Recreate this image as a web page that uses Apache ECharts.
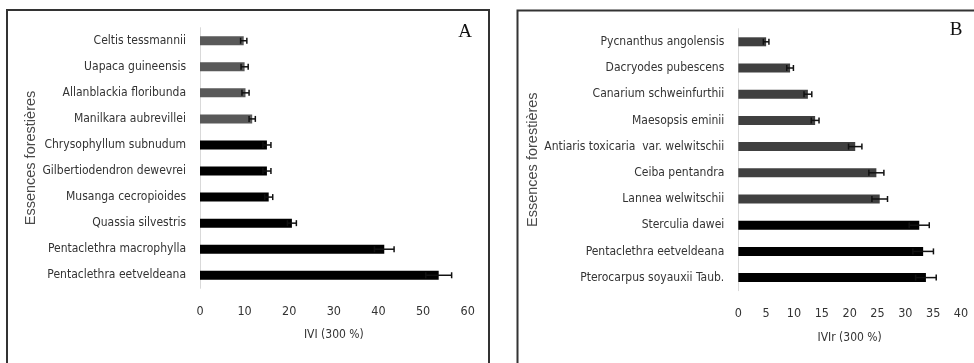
<!DOCTYPE html>
<html><head><meta charset="utf-8">
<script src="https://cdn.jsdelivr.net/npm/echarts@6/dist/echarts.min.js"></script>
<style>html,body{margin:0;padding:0;background:#fff}#c{width:974px;height:363px}</style>
</head><body><div id="c"></div>
<script>
// Panel A
const catsA = ['Celtis tessmannii','Uapaca guineensis','Allanblackia floribunda','Manilkara aubrevillei','Chrysophyllum subnudum','Gilbertiodendron dewevrei','Musanga cecropioides','Quassia silvestris','Pentaclethra macrophylla','Pentaclethra eetveldeana'];
const valsA = [9.8, 10.0, 10.2, 11.7, 15.0, 15.0, 15.4, 20.6, 41.3, 53.5];
const errA  = [0.7, 0.8, 0.8, 0.7, 0.9, 0.9, 0.9, 1.0, 2.2, 2.9];
const grayCountA = 4;
const ticksA = [0, 10, 20, 30, 40, 50, 60];
// Panel B
const catsB = ['Pycnanthus angolensis','Dacryodes pubescens','Canarium schweinfurthii','Maesopsis eminii','Antiaris toxicaria  var. welwitschii','Ceiba pentandra','Lannea welwitschii','Sterculia dawei','Pentaclethra eetveldeana','Pterocarpus soyauxii Taub.'];
const valsB = [5.0, 9.3, 12.5, 13.8, 21.0, 24.8, 25.4, 32.5, 33.2, 33.7];
const errB  = [0.5, 0.6, 0.7, 0.7, 1.2, 1.35, 1.4, 1.8, 1.85, 1.85];
const grayCountB = 7;
const ticksB = [0, 5, 10, 15, 20, 25, 30, 35, 40];

const FONT = '"DejaVu Sans Condensed","Liberation Sans Narrow","Liberation Sans",sans-serif';
const TXT = '#333';

function barData(vals, grayCount, gray) {
  return vals.map((v, i) => ({ value: v, itemStyle: { color: i < grayCount ? gray : '#000' } }));
}
function errData(vals, errs) {
  return vals.map((v, i) => [i, v - errs[i], v + errs[i]]);
}
function errRender(params, api) {
  const cat = api.value(0);
  const lo = api.coord([api.value(1), cat]);
  const hi = api.coord([api.value(2), cat]);
  const h = 3;
  const st = { stroke: '#111', lineWidth: 1.5 };
  return { type: 'group', children: [
    { type: 'line', shape: { x1: lo[0], y1: lo[1], x2: hi[0], y2: hi[1] }, style: st },
    { type: 'line', shape: { x1: lo[0], y1: lo[1] - h, x2: lo[0], y2: lo[1] + h }, style: st },
    { type: 'line', shape: { x1: hi[0], y1: hi[1] - h, x2: hi[0], y2: hi[1] + h }, style: st }
  ]};
}
function xAx(gi, ticks, name) {
  return { gridIndex: gi, type: 'value', min: ticks[0], max: ticks[ticks.length - 1],
    interval: ticks[1] - ticks[0],
    axisLine: { show: false }, axisTick: { show: false }, splitLine: { show: false },
    axisLabel: { color: TXT, fontFamily: FONT, fontSize: 12.5, margin: 17 },
    name: name, nameLocation: 'middle', nameGap: 41,
    nameTextStyle: { color: TXT, fontFamily: FONT, fontSize: 12 } };
}
function yAx(gi, cats, gap) {
  return { gridIndex: gi, type: 'category', data: cats, inverse: true,
    axisLine: { show: true, lineStyle: { color: '#d9d9d9', width: 1 } },
    axisTick: { show: false },
    axisLabel: { color: TXT, fontFamily: FONT, fontSize: 12, margin: 14 },
    name: 'Essences forestières', nameLocation: 'middle', nameRotate: 90, nameGap: gap,
    nameTextStyle: { color: '#4a4a4a', fontFamily: '"Liberation Sans",Arial,sans-serif', fontSize: 14.5 } };
}

const chart = echarts.init(document.getElementById('c'), null, { renderer: 'canvas' });
chart.setOption({
  animation: false,
  backgroundColor: '#fff',
  grid: [
    { left: 200, width: 267.7, top: 27.7, height: 260.6 },
    { left: 738.3, width: 222.7, top: 28.7, height: 262 }
  ],
  xAxis: [ xAx(0, ticksA, 'IVI (300 %)'), xAx(1, ticksB, 'IVIr (300 %)') ],
  yAxis: [ yAx(0, catsA, 160), yAx(1, catsB, 181) ],
  graphic: [
    { type: 'rect', shape: { x: 7, y: 10, width: 482, height: 360 }, style: { fill: 'none', stroke: '#333', lineWidth: 2 } },
    { type: 'rect', shape: { x: 517.5, y: 10.5, width: 470, height: 360 }, style: { fill: 'none', stroke: '#333', lineWidth: 2 } },
    { type: 'text', x: 465, y: 32, style: { text: 'A', font: '19px "Liberation Serif",serif', fill: '#111', align: 'center', verticalAlign: 'middle' } },
    { type: 'text', x: 956, y: 30, style: { text: 'B', font: '19px "Liberation Serif",serif', fill: '#111', align: 'center', verticalAlign: 'middle' } }
  ],
  series: [
    { type: 'bar', xAxisIndex: 0, yAxisIndex: 0, barWidth: 9, data: barData(valsA, grayCountA, '#595959') },
    { type: 'custom', xAxisIndex: 0, yAxisIndex: 0, renderItem: errRender, data: errData(valsA, errA), z: 5 },
    { type: 'bar', xAxisIndex: 1, yAxisIndex: 1, barWidth: 9, data: barData(valsB, grayCountB, '#404040') },
    { type: 'custom', xAxisIndex: 1, yAxisIndex: 1, renderItem: errRender, data: errData(valsB, errB), z: 5 }
  ]
});
</script></body></html>
